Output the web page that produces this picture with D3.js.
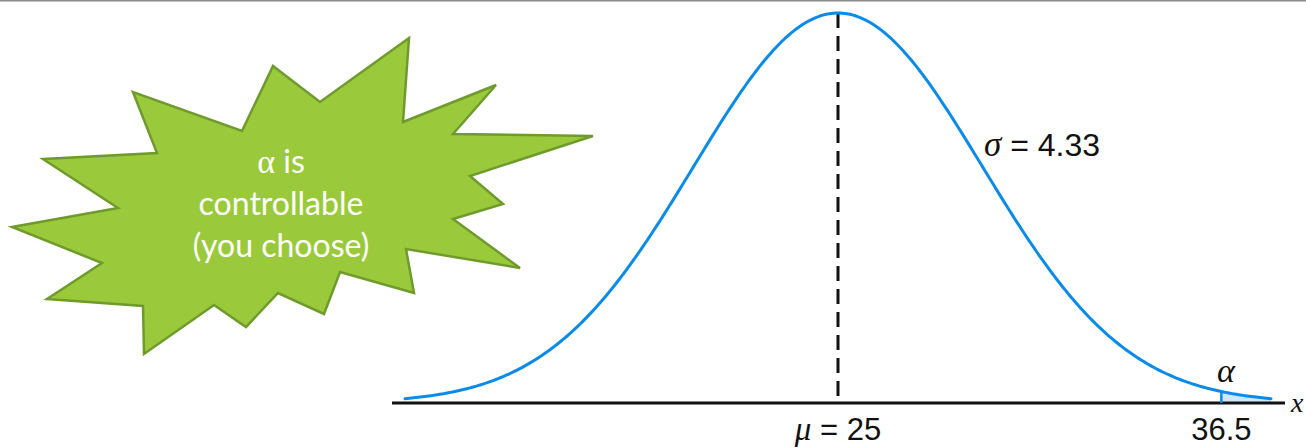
<!DOCTYPE html>
<html>
<head>
<meta charset="utf-8">
<script src="https://cdn.jsdelivr.net/npm/d3@7"></script>
<style>
  html, body { margin: 0; padding: 0; background: #fff; }
  svg { display: block; }
</style>
</head>
<body>
<svg id="chart" width="1306" height="448"></svg>
<script>
// Normal distribution parameters
const mu = 25;
const sigma = 4.33;
const criticalValue = 36.5;
const xDomain = [mu - 3 * sigma, mu + 3 * sigma];

// Axis labels
const meanSymbol = "μ", meanValue = "= 25";
const critLabel = "36.5";
const sigmaSymbol = "σ", sigmaValue = "= 4.33";
const alphaLabel = "α";
const axisName = "x";

// Callout text lines
const calloutLines = ["α is", "controllable", "(you choose)"];

// Starburst callout outline
const burstX = [43, 157, 133, 242, 273, 320, 409, 403, 496, 453, 593, 470, 503, 453, 520, 406, 414, 340, 324, 278, 246, 214, 144, 143, 47, 102, 12, 118];
const burstY = [159, 153, 92, 131, 66, 102, 38, 122, 85, 134, 136, 176, 204, 219, 268, 249, 293, 272, 314, 293, 327, 305, 354, 306, 299, 263, 227, 208];

const W = 1306, H = 448;
const svg = d3.select("#chart");

const pdf = x => Math.exp(-0.5 * ((x - mu) / sigma) ** 2) / (sigma * Math.sqrt(2 * Math.PI));

const x = d3.scaleLinear().domain(xDomain).range([405, 1271]);
const y = d3.scaleLinear().domain([0, pdf(mu)]).range([403, 13]);

// thin frame line along the top
svg.append("line").attr("x1", 0).attr("x2", W).attr("y1", 0.75).attr("y2", 0.75)
  .attr("stroke", "#8a8a8a").attr("stroke-width", 1.5);

// sample the density curve
const n = 400;
const curve = d3.range(n + 1).map(i => {
  const v = xDomain[0] + (xDomain[1] - xDomain[0]) * i / n;
  return [v, pdf(v)];
});

// shaded upper tail (alpha region)
const tail = curve.filter(d => d[0] >= criticalValue);
tail.unshift([criticalValue, pdf(criticalValue)]);
svg.append("path")
  .datum(tail)
  .attr("fill", "#cfe7fa")
  .attr("d", d3.area().x(d => x(d[0])).y0(y(0)).y1(d => y(d[1])));

// x axis baseline
svg.append("line")
  .attr("x1", 392).attr("x2", 1285)
  .attr("y1", y(0)).attr("y2", y(0))
  .attr("stroke", "#111").attr("stroke-width", 3);

// dashed mean line
svg.append("line")
  .attr("x1", x(mu)).attr("x2", x(mu))
  .attr("y1", y(pdf(mu))).attr("y2", y(0))
  .attr("stroke", "#111").attr("stroke-width", 3)
  .attr("stroke-dasharray", "15 8");

// critical value marker
svg.append("line")
  .attr("x1", x(criticalValue)).attr("x2", x(criticalValue))
  .attr("y1", y(pdf(criticalValue))).attr("y2", y(0))
  .attr("stroke", "#0a8be8").attr("stroke-width", 2.5);

// density curve
svg.append("path")
  .datum(curve)
  .attr("fill", "none")
  .attr("stroke", "#0a8be8")
  .attr("stroke-width", 3)
  .attr("stroke-linecap", "round")
  .attr("d", d3.line().x(d => x(d[0])).y(d => y(d[1])));

const labelFont = "'Liberation Sans', Arial, Helvetica, sans-serif";
const symbolFont = "'Liberation Serif', 'DejaVu Serif', serif";

// labels under the axis
const meanText = svg.append("text")
  .attr("x", x(mu)).attr("y", 440)
  .attr("text-anchor", "middle")
  .attr("font-family", labelFont).attr("font-size", 31).attr("fill", "#111");
meanText.append("tspan").attr("font-style", "italic").attr("font-family", symbolFont).attr("font-size", 33).text(meanSymbol);
meanText.append("tspan").text(" " + meanValue);

svg.append("text")
  .attr("x", x(criticalValue)).attr("y", 440)
  .attr("text-anchor", "middle")
  .attr("font-family", labelFont).attr("font-size", 31).attr("fill", "#111")
  .text(critLabel);

// sigma annotation
const sigText = svg.append("text")
  .attr("x", 984).attr("y", 156)
  .attr("font-family", labelFont).attr("font-size", 32).attr("fill", "#111");
sigText.append("tspan").attr("font-style", "italic").attr("font-family", symbolFont).attr("font-size", 35).text(sigmaSymbol);
sigText.append("tspan").text(" " + sigmaValue);

// alpha label over the tail
svg.append("text")
  .attr("x", 1226).attr("y", 382)
  .attr("text-anchor", "middle")
  .attr("font-family", symbolFont).attr("font-style", "italic")
  .attr("font-size", 34).attr("fill", "#111")
  .text(alphaLabel);

// axis name at the right end
svg.append("text")
  .attr("x", 1291).attr("y", 412)
  .attr("font-family", symbolFont).attr("font-style", "italic")
  .attr("font-size", 28).attr("fill", "#111")
  .text(axisName);

// starburst callout
const burst = burstX.map((bx, i) => [bx, burstY[i]]);
svg.append("path")
  .attr("d", d3.line()(burst) + "Z")
  .attr("fill", "#9aca3c")
  .attr("stroke", "#6f9a2c")
  .attr("stroke-width", 2.5)
  .attr("stroke-linejoin", "miter");

const callout = svg.append("g")
  .selectAll("text")
  .data(calloutLines)
  .join("text")
  .attr("x", 281)
  .attr("y", (d, i) => 173 + i * 42)
  .attr("text-anchor", "middle")
  .attr("font-family", "Lato, 'Open Sans', sans-serif")
  .attr("font-size", 32)
  .attr("fill", "#fff");

// Greek letter in the first line is set in a serif face
callout.each(function (d) {
  const t = d3.select(this);
  if (d.startsWith("α")) {
    t.append("tspan").attr("font-family", symbolFont).attr("font-size", 34).text("α");
    t.append("tspan").text(d.slice(1));
  } else {
    t.text(d);
  }
});
</script>
</body>
</html>
